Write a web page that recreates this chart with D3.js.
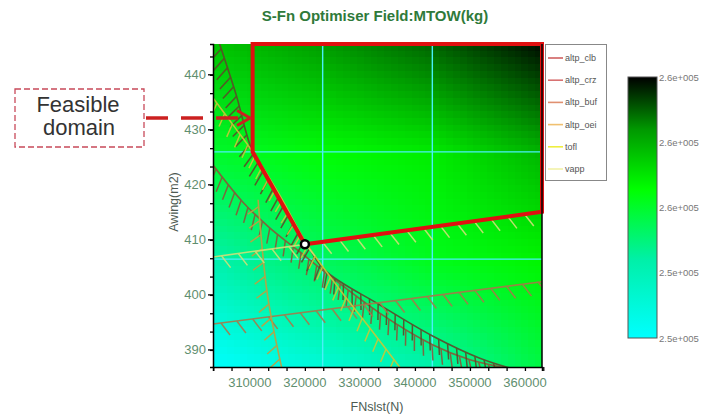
<!DOCTYPE html>
<html>
<head>
<meta charset="UTF-8">
<title>S-Fn Optimiser Field</title>
<script src="https://cdnjs.cloudflare.com/ajax/libs/d3/7.8.5/d3.min.js"></script>
<style>
  body { margin: 0; background: #fff; font-family: 'Liberation Sans', Arial, sans-serif; }
  svg { display: block; }
</style>
</head>
<body>
<svg id="chart" width="701" height="418"></svg>
<script>
// axis ticks and ranges
const xTicks = [310000, 320000, 330000, 340000, 350000, 360000];
const yTicks = [390, 400, 410, 420, 430, 440];
const xDomain = [303300, 363100];
const yDomain = [386.9, 445.6];

// MTOW field, grid at the domain thirds, top row first
const fieldX = [303300, 323233, 343167, 363100];
const fieldY = [445.6, 426.0, 406.5, 386.9];
const fieldMtow = [
    [256500, 257000, 257450, 258100],
    [255400, 255750, 256000, 256700],
    [254150, 254950, 255550, 255900],
    [252600, 253250, 254100, 255200]
];
const colorTicks = [252600, 254000, 255400, 256800, 258200];

// constraint curves [FNslst, Awing]
const constraintNames = ["altp_clb", "altp_crz", "altp_buf", "altp_oei", "tofl", "vapp"];
const altpClb = [[303300, 423.6], [308700, 416.9], [313600, 412.2], [319100, 407.8], [323600, 404.2],
                 [333600, 396.7], [343300, 390.9], [350000, 388.2], [356700, 386.7]];
const altpCrz = [[304500, 445.6], [307500, 436.4], [310500, 426.0], [315500, 417.3], [320200, 409.5],
                 [323600, 404.5], [333600, 398.2], [343300, 392.5], [351800, 388.5], [357300, 386.7]];
const altpBuf = [[303300, 394.7], [363100, 402.4]];
const altpOei = [[311500, 417.3], [313200, 400.0], [315800, 386.7]];
const tofl = [[303300, 435.8], [307300, 430.4], [310500, 426.0], [315500, 418.0], [320200, 409.5],
              [326400, 400.9], [331800, 394.0], [337600, 386.4]];
const vapp = [[303300, 406.9], [363100, 415.1]];
const constraints = [altpClb, altpCrz, altpBuf, altpOei, tofl, vapp];

// feasible domain and optimum
const feasible = [[310500, 445.6], [310500, 426.0], [320000, 409.2], [363100, 415.1], [363100, 445.6]];
const optimum = [320000, 409.2];

const legendColors = ["#d06060", "#d87272", "#e09070", "#f0c070", "#eeee40", "#f2f2a8"];
const plotColors = ["#8a5838", "#5e4a2a", "#a8784a", "#c0a040", "#c8c838", "#d0e078"];
const hatchSpacing = [10, 10, 16, 14, 13, 17];
const hatchLength = [16, 16, 15, 13, 14, 15];

const svg = d3.select("#chart");
const fontFam = "'Liberation Sans', Arial, sans-serif";
const pLeft = 213, pRight = 542, pTop = 44, pBottom = 367;

const x = d3.scaleLinear().domain(xDomain).range([pLeft, pRight]);
const y = d3.scaleLinear().domain(yDomain).range([pBottom, pTop]);

const vMin = colorTicks[0], vMax = colorTicks[colorTicks.length - 1];
const color = d3.scaleLinear()
    .domain([0, 0.3, 0.57, 0.8, 1].map(t => vMin + t * (vMax - vMin)))
    .range(["#00ffff", "#00f0a8", "#00ff00", "#009800", "#000000"]);

// title
svg.append("text")
    .attr("x", 375).attr("y", 21)
    .attr("text-anchor", "middle")
    .attr("font-family", fontFam).attr("font-size", 15).attr("font-weight", "bold")
    .attr("fill", "#2f7a3a")
    .text("S-Fn Optimiser Field:MTOW(kg)");

const defs = svg.append("defs");
defs.append("clipPath").attr("id", "plotClip")
    .append("rect").attr("x", pLeft).attr("y", pTop).attr("width", pRight - pLeft).attr("height", pBottom - pTop);

// field: small grid coloured, then smoothed up by the canvas
const W = pRight - pLeft, H = pBottom - pTop;
const small = document.createElement("canvas");
small.width = fieldX.length; small.height = fieldY.length;
const sctx = small.getContext("2d");
fieldMtow.forEach((row, j) => row.forEach((v, i) => {
    sctx.fillStyle = color(v);
    sctx.fillRect(i, j, 1, 1);
}));
const big = document.createElement("canvas");
big.width = W; big.height = H;
const bctx = big.getContext("2d");
bctx.imageSmoothingEnabled = true;
const sx = W / (fieldX.length - 1), sy = H / (fieldY.length - 1);
bctx.drawImage(small, -0.5 * sx, -0.5 * sy, fieldX.length * sx, fieldY.length * sy);
svg.append("image")
    .attr("x", pLeft).attr("y", pTop).attr("width", W).attr("height", H)
    .attr("preserveAspectRatio", "none")
    .attr("href", big.toDataURL());

const plot = svg.append("g").attr("clip-path", "url(#plotClip)");

// cyan grid at the inner field positions
plot.selectAll(".gx").data(fieldX.slice(1, -1)).enter().append("line")
    .attr("x1", d => x(d)).attr("x2", d => x(d)).attr("y1", pTop).attr("y2", pBottom)
    .attr("stroke", "#48f0f8").attr("stroke-width", 1.4);
plot.selectAll(".gy").data(fieldY.slice(1, -1)).enter().append("line")
    .attr("y1", d => y(d)).attr("y2", d => y(d)).attr("x1", pLeft).attr("x2", pRight)
    .attr("stroke", "#48f0f8").attr("stroke-width", 1.4);

// constraints with hatching on the infeasible side
const line = d3.line().x(d => x(d[0])).y(d => y(d[1])).curve(d3.curveCatmullRom);
constraints.forEach((pts, k) => {
    const g = plot.append("g").attr("opacity", 0.9);
    const path = g.append("path")
        .attr("d", line(pts))
        .attr("fill", "none").attr("stroke", plotColors[k]).attr("stroke-width", 1.6);
    const node = path.node();
    const total = node.getTotalLength();
    const a = Math.PI / 6;
    for (let l = hatchSpacing[k] / 2; l < total; l += hatchSpacing[k]) {
        const p0 = node.getPointAtLength(Math.max(0, l - 1));
        const p1 = node.getPointAtLength(Math.min(total, l + 1));
        let tx = p1.x - p0.x, ty = p1.y - p0.y;
        const n = Math.hypot(tx, ty); tx /= n; ty /= n;
        const nx = -ty, ny = tx;
        const dx = nx * Math.cos(a) + tx * Math.sin(a);
        const dy = ny * Math.cos(a) + ty * Math.sin(a);
        const p = node.getPointAtLength(l);
        g.append("line")
            .attr("x1", p.x).attr("y1", p.y)
            .attr("x2", p.x + dx * hatchLength[k]).attr("y2", p.y + dy * hatchLength[k])
            .attr("stroke", plotColors[k]).attr("stroke-width", 1.5);
    }
});

// feasible domain
svg.append("path")
    .attr("d", d3.line().x(d => x(d[0])).y(d => y(d[1])).curve(d3.curveLinearClosed)(feasible))
    .attr("fill", "none").attr("stroke", "#e01010").attr("stroke-width", 4)
    .attr("stroke-linejoin", "miter");

svg.append("circle")
    .attr("cx", x(optimum[0])).attr("cy", y(optimum[1])).attr("r", 4)
    .attr("fill", "#fff").attr("stroke", "#000").attr("stroke-width", 2.5);

// frame
svg.append("line").attr("x1", pRight).attr("x2", pRight).attr("y1", pTop).attr("y2", pBottom)
    .attr("stroke", "#000").attr("stroke-width", 1.5);

// axes
const tickColor = "#5f8f6f";
const xMinor = d3.merge(xTicks.map(t => [t - 20000 / 3, t - 10000 / 3, t]))
    .concat([360000 + 10000 / 3 - 0.1]).filter(t => t >= xDomain[0]);
const xAxis = svg.append("g").attr("transform", `translate(0,${pBottom})`)
    .call(d3.axisBottom(x).tickValues(xMinor).tickSize(4).tickFormat(""));
xAxis.call(g => g.select(".domain").attr("stroke-width", 1.5));
xAxis.append("g").selectAll("text").data(xTicks).enter().append("text")
    .attr("x", d => x(d)).attr("y", 20)
    .attr("text-anchor", "middle")
    .attr("font-family", fontFam).attr("font-size", 13).attr("fill", tickColor)
    .text(d => d);
xAxis.selectAll(".tick line").attr("stroke-width", 1.3);

const yMinor = d3.merge(yTicks.map(t => [t - 20 / 3, t - 10 / 3, t]))
    .concat([440 + 10 / 3]).filter(t => t >= yDomain[0]);
const yAxis = svg.append("g").attr("transform", `translate(${pLeft},0)`)
    .call(d3.axisLeft(y).tickValues(yMinor).tickSize(3).tickFormat(""));
yAxis.call(g => g.select(".domain").attr("stroke-width", 1.5));
yAxis.selectAll(".tick line").attr("stroke-width", 1.3);
yAxis.selectAll(".major").data(yTicks).enter().append("line")
    .attr("x1", -5).attr("x2", 0).attr("y1", d => y(d)).attr("y2", d => y(d))
    .attr("stroke", "#000").attr("stroke-width", 1.3);
yAxis.append("g").selectAll("text").data(yTicks).enter().append("text")
    .attr("x", -7).attr("y", d => y(d) + 4.5)
    .attr("text-anchor", "end")
    .attr("font-family", fontFam).attr("font-size", 13).attr("fill", tickColor)
    .text(d => d);

svg.append("text")
    .attr("x", 377).attr("y", 411)
    .attr("text-anchor", "middle")
    .attr("font-family", fontFam).attr("font-size", 12.5).attr("fill", "#4d5a52")
    .text("FNslst(N)");
svg.append("text")
    .attr("transform", "translate(178,202) rotate(-90)")
    .attr("text-anchor", "middle")
    .attr("font-family", fontFam).attr("font-size", 12.5).attr("fill", "#4d5a52")
    .text("Awing(m2)");

// legend
const legend = svg.append("g");
legend.append("rect")
    .attr("x", 545.5).attr("y", 44.5).attr("width", 61).attr("height", 136)
    .attr("fill", "#fff").attr("stroke", "#888").attr("stroke-width", 1);
constraintNames.forEach((name, i) => {
    const ly = 58 + i * 22.2;
    legend.append("line")
        .attr("x1", 548).attr("x2", 563).attr("y1", ly).attr("y2", ly)
        .attr("stroke", legendColors[i]).attr("stroke-width", 1.6);
    legend.append("text")
        .attr("x", 565).attr("y", ly + 3)
        .attr("font-family", fontFam).attr("font-size", 9).attr("fill", "#555")
        .text(name);
});

// colour bar
const cbX = 628, cbW = 29, cbTop = 77, cbBottom = 338;
const grad = defs.append("linearGradient")
    .attr("id", "cbGrad").attr("x1", 0).attr("y1", 1).attr("x2", 0).attr("y2", 0);
color.domain().forEach((v, i) => {
    grad.append("stop")
        .attr("offset", (v - vMin) / (vMax - vMin))
        .attr("stop-color", color.range()[i]);
});
svg.append("rect")
    .attr("x", cbX).attr("y", cbTop).attr("width", cbW).attr("height", cbBottom - cbTop)
    .attr("fill", "url(#cbGrad)").attr("stroke", "#555").attr("stroke-width", 1);
const cbScale = d3.scaleLinear().domain([vMin, vMax]).range([cbBottom, cbTop]);
svg.selectAll(".cbl").data(colorTicks).enter().append("text")
    .attr("x", cbX + cbW + 2).attr("y", d => cbScale(d) + 3.5)
    .attr("font-family", fontFam).attr("font-size", 9.5).attr("fill", "#777")
    .text(d => d.toExponential(1).replace("e+5", "e+005"));

// annotation
svg.append("rect")
    .attr("x", 15).attr("y", 89).attr("width", 129).attr("height", 58)
    .attr("fill", "none").attr("stroke", "#c84a5a").attr("stroke-width", 1.3)
    .attr("stroke-dasharray", "6,3");
svg.append("text")
    .attr("x", 78).attr("y", 112)
    .attr("text-anchor", "middle")
    .attr("font-family", fontFam).attr("font-size", 22).attr("fill", "#333")
    .text("Feasible");
svg.append("text")
    .attr("x", 79).attr("y", 135)
    .attr("text-anchor", "middle")
    .attr("font-family", fontFam).attr("font-size", 22).attr("fill", "#333")
    .text("domain");
svg.append("line")
    .attr("x1", 146).attr("x2", 247).attr("y1", 118).attr("y2", 118)
    .attr("stroke", "#cc2020").attr("stroke-width", 3.5)
    .attr("stroke-dasharray", "22,13");
svg.append("polyline")
    .attr("points", "237,110.5 250,118 237,125.5")
    .attr("fill", "none").attr("stroke", "#cc2020").attr("stroke-width", 3);
</script>
</body>
</html>
